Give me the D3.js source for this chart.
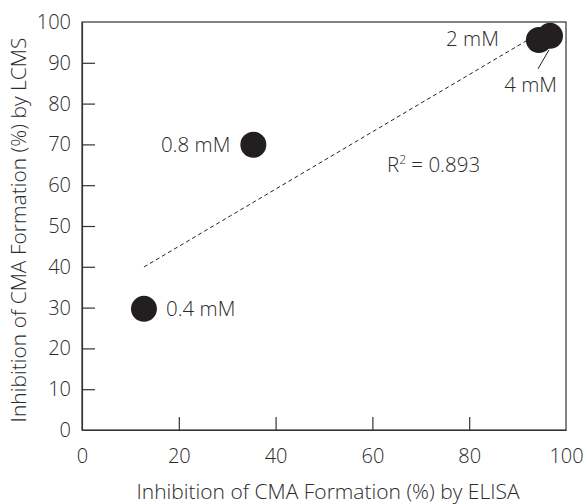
<!DOCTYPE html>
<html>
<head>
<meta charset="utf-8">
<script src="https://cdn.jsdelivr.net/npm/d3@7"></script>
<style>
  body { margin: 0; background: #fff; }
  text { font-family: "Open Sans", "Noto Sans", sans-serif; font-weight: 300; fill: #2b2b2b; }
</style>
</head>
<body>
<script>
// concentrations and their inhibition values (ELISA vs LCMS)
const labels = ["0.4 mM", "0.8 mM", "2 mM", "4 mM"];
const elisa = [12.8, 35.4, 94.4, 96.7];
const lcms = [29.7, 69.9, 95.6, 96.6];
const xTicks = [0, 20, 40, 60, 80, 100];
const yTicks = [0, 10, 20, 30, 40, 50, 60, 70, 80, 90, 100];
const r2Label = "0.893";

const width = 585;
const height = 504;
const margin = { top: 22, right: 19, bottom: 74, left: 82 };
const fs = 20;

const svg = d3.select('body')
  .append('svg')
  .attr('width', width)
  .attr('height', height);

const x = d3.scaleLinear().domain([0, 100]).range([margin.left, width - margin.right]);
const y = d3.scaleLinear().domain([0, 100]).range([height - margin.bottom, margin.top]);

// frame
svg.append('rect')
  .attr('x', x(0)).attr('y', y(100))
  .attr('width', x(100) - x(0)).attr('height', y(0) - y(100))
  .attr('fill', 'none').attr('stroke', '#333').attr('stroke-width', 1.2);

const xAxis = d3.axisBottom(x).tickValues(xTicks).tickSizeInner(-13).tickSizeOuter(0).tickPadding(19);
const yAxis = d3.axisLeft(y).tickValues(yTicks).tickSizeInner(-13).tickSizeOuter(0).tickPadding(11);

const gx = svg.append('g')
  .attr('transform', `translate(0, ${y(0)})`)
  .call(xAxis);
const gy = svg.append('g')
  .attr('transform', `translate(${x(0)}, 0)`)
  .call(yAxis);

[gx, gy].forEach(g => {
  g.select('.domain').attr('stroke', '#333').attr('stroke-width', 1.2);
  g.selectAll('.tick line').attr('stroke', '#333').attr('stroke-width', 1.2);
  g.selectAll('.tick text').attr('font-size', fs).attr('fill', '#2b2b2b')
    .style('font-family', '"Open Sans", "Noto Sans", sans-serif')
    .style('font-weight', 300);
});
gx.selectAll('.tick line').filter(d => d === 0 || d === 100).remove();
gy.selectAll('.tick line').filter(d => d === 0 || d === 100).remove();

// linear regression of LCMS on ELISA
const pts = elisa.map((v, i) => [v, lcms[i]]);
const mx = d3.mean(elisa), my = d3.mean(lcms);
const sxy = d3.sum(pts, p => (p[0] - mx) * (p[1] - my));
const sxx = d3.sum(pts, p => (p[0] - mx) ** 2);
const slope = sxy / sxx;
const icpt = my - slope * mx;
const [x0, x1] = d3.extent(elisa);

svg.append('line')
  .attr('x1', x(x0)).attr('y1', y(icpt + slope * x0))
  .attr('x2', x(x1)).attr('y2', y(icpt + slope * x1))
  .attr('stroke', '#222').attr('stroke-width', 1)
  .attr('stroke-dasharray', '4,3');

// leader line for 4 mM
svg.append('line')
  .attr('x1', x(elisa[3]) - 1).attr('y1', y(lcms[3]) + 14)
  .attr('x2', x(elisa[3]) - 12).attr('y2', y(lcms[3]) + 33)
  .attr('stroke', '#222').attr('stroke-width', 1);

svg.selectAll('circle')
  .data(pts)
  .enter()
  .append('circle')
  .attr('cx', d => x(d[0]))
  .attr('cy', d => y(d[1]))
  .attr('r', 13)
  .attr('fill', '#231f20');

// point labels
const lbl = [
  { dx: 22, dy: 7, anchor: 'start' },
  { dx: -23, dy: 7, anchor: 'end' },
  { dx: -40, dy: 6, anchor: 'end' },
  { dx: 7, dy: 56, anchor: 'end' }
];
svg.selectAll('.plabel')
  .data(pts)
  .enter()
  .append('text')
  .attr('class', 'plabel')
  .attr('x', (d, i) => x(d[0]) + lbl[i].dx)
  .attr('y', (d, i) => y(d[1]) + lbl[i].dy)
  .attr('text-anchor', (d, i) => lbl[i].anchor)
  .attr('font-size', 20.5)
  .text((d, i) => labels[i]);

// R squared
const r2 = svg.append('text')
  .attr('x', 387).attr('y', 172)
  .attr('font-size', 20.5);
r2.append('tspan').text('R');
r2.append('tspan').attr('font-size', 12).attr('dy', -8).text('2');
r2.append('tspan').attr('dy', 8).text(' = ' + r2Label);

// axis titles
svg.append('text')
  .attr('x', 328)
  .attr('y', 499)
  .attr('text-anchor', 'middle')
  .attr('font-size', 21)
  .text('Inhibition of CMA Formation (%) by ELISA');

svg.append('text')
  .attr('transform', `translate(26, 230) rotate(-90)`)
  .attr('text-anchor', 'middle')
  .attr('font-size', 21)
  .text('Inhibition of CMA Formation (%) by LCMS');
</script>
</body>
</html>
